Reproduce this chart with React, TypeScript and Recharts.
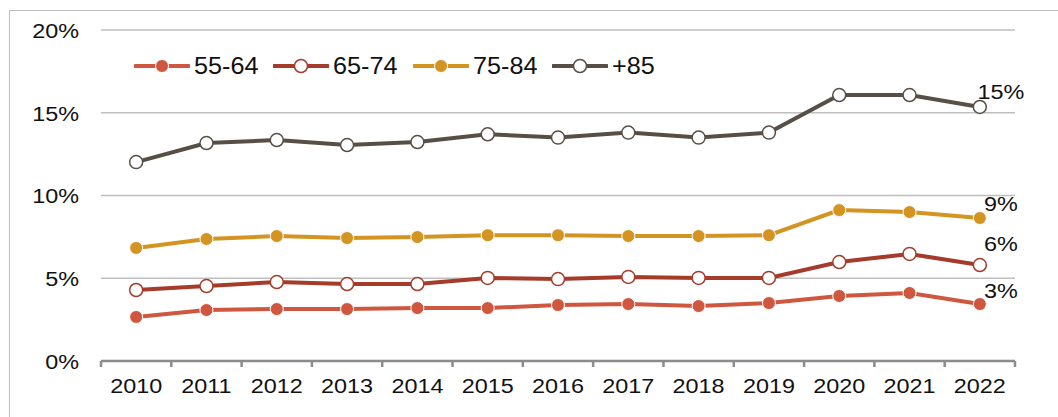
import React from "react";
import { LineChart, Line, XAxis, YAxis, CartesianGrid, LabelList } from "recharts";

const years = ["2010", "2011", "2012", "2013", "2014", "2015", "2016", "2017", "2018", "2019", "2020", "2021", "2022"];
const age5564 = [2.66, 3.08, 3.14, 3.14, 3.2, 3.2, 3.38, 3.44, 3.32, 3.5, 3.93, 4.11, 3.44];
const age6574 = [4.29, 4.53, 4.77, 4.65, 4.65, 5.02, 4.95, 5.08, 5.02, 5.02, 5.98, 6.47, 5.8];
const age7584 = [6.83, 7.37, 7.55, 7.43, 7.49, 7.6, 7.6, 7.55, 7.55, 7.6, 9.12, 9.0, 8.64];
const age85 = [12.02, 13.17, 13.35, 13.05, 13.23, 13.7, 13.5, 13.8, 13.5, 13.8, 16.07, 16.07, 15.35];
const yTicks = [0, 5, 10, 15, 20];

const data = years.map((year, i) => ({
  x: i + 0.5,
  year,
  a: age5564[i],
  b: age6574[i],
  c: age7584[i],
  d: age85[i],
}));

// ticks at band edges (lines) and band centres (labels)
const xTicks: number[] = [];
for (let i = 0; i <= years.length * 2; i++) xTicks.push(i / 2);

const series = [
  { key: "a", name: "55-64", color: "#D0573F", filled: true, labelDy: -13 },
  { key: "b", name: "65-74", color: "#A53B2B", filled: false, labelDy: -21 },
  { key: "c", name: "75-84", color: "#D39421", filled: true, labelDy: -14 },
  { key: "d", name: "+85", color: "#574F45", filled: false, labelDy: -15 },
];

const FONT = "'Liberation Sans', Arial, sans-serif";
const AXIS = "#8C8C8C";

const XTick = (props: any) => {
  const { x, y, payload } = props;
  const v = payload.value;
  if (Number.isInteger(v)) {
    return <line x1={x} x2={x} y1={y} y2={y + 6} stroke={AXIS} strokeWidth={2.5} />;
  }
  return (
    <text
      transform={`translate(${x},${y + 25}) scale(1.2,1)`}
      textAnchor="middle"
      dy="0.35em"
      fontFamily={FONT}
      fontSize={19.5}
      fill="#111"
    >
      {years[v - 0.5]}
    </text>
  );
};

const YTick = (props: any) => {
  const { x, y, payload } = props;
  return (
    <text
      transform={`translate(${x},${y + 1}) scale(1.2,1)`}
      textAnchor="end"
      dy="0.35em"
      fontFamily={FONT}
      fontSize={19.5}
      fill="#111"
    >
      {payload.value}%
    </text>
  );
};

const endLabel = (dy: number) => (props: any) => {
  const { x, y, index, value } = props;
  if (index !== years.length - 1) return null;
  return (
    <text
      transform={`translate(${x + 21},${y + dy}) scale(1.2,1)`}
      textAnchor="middle"
      dy="0.35em"
      fontFamily={FONT}
      fontSize={19.5}
      fill="#111"
    >
      {Math.round(value)}%
    </text>
  );
};

const LegendBox = () => (
  <div style={{ display: "flex", alignItems: "center", fontFamily: FONT, fontSize: 24, color: "#111" }}>
    {series.map((s) => (
      <div key={s.key} style={{ display: "flex", alignItems: "center", marginRight: 16 }}>
        <svg width={56} height={16} style={{ marginRight: 4 }}>
          <line x1={1} x2={55} y1={8} y2={8} stroke={s.color} strokeWidth={4} strokeLinecap="round" />
          <circle cx={28} cy={8} r={6.5} fill={s.filled ? s.color : "#fff"} stroke={s.filled ? "#fff" : s.color} strokeWidth={s.filled ? 1 : 1.5} />
        </svg>
        <span style={{ display: "inline-block", transform: "scaleX(1.05)", transformOrigin: "left center", marginRight: 2 }}>{s.name}</span>
      </div>
    ))}
  </div>
);

export default function App() {
  return (
    <div style={{ position: "absolute", left: 0, top: 0, width: 1058, height: 417, overflow: "hidden", background: "#fff" }}>
      <div
        style={{
          position: "absolute",
          left: 9,
          top: 10,
          width: 1200,
          height: 600,
          border: "1.5px solid #BFBFBF",
        }}
      />
      <div style={{ position: "absolute", left: 0, top: 0 }}>
        <LineChart width={1058} height={417} data={data} margin={{ top: 30, right: 43, bottom: 0, left: 0 }}>
          <CartesianGrid vertical={false} stroke="#BFBFBF" strokeWidth={1.5} />
          <XAxis
            dataKey="x"
            type="number"
            domain={[0, years.length]}
            ticks={xTicks}
            interval={0}
            height={56}
            tickSize={0}
            tickMargin={0}
            tickLine={false}
            axisLine={{ stroke: AXIS, strokeWidth: 2.5 }}
            tick={<XTick />}
          />
          <YAxis
            domain={[0, 20]}
            ticks={yTicks}
            width={101}
            tickSize={0}
            tickMargin={22}
            tickLine={false}
            axisLine={false}
            tick={<YTick />}
          />
          {series.map((s) => (
            <Line
              key={s.key}
              type="linear"
              dataKey={s.key}
              name={s.name}
              stroke={s.color}
              strokeWidth={4}
              isAnimationActive={false}
              dot={{
                r: 6.5,
                fill: s.filled ? s.color : "#fff",
                stroke: s.filled ? "#fff" : s.color,
                strokeWidth: s.filled ? 1 : 1.5,
              }}
              activeDot={false}
            >
              <LabelList dataKey={s.key} content={endLabel(s.labelDy)} />
            </Line>
          ))}
        </LineChart>
      </div>
      <div style={{ position: "absolute", left: 134, top: 52 }}>
        <LegendBox />
      </div>
    </div>
  );
}
